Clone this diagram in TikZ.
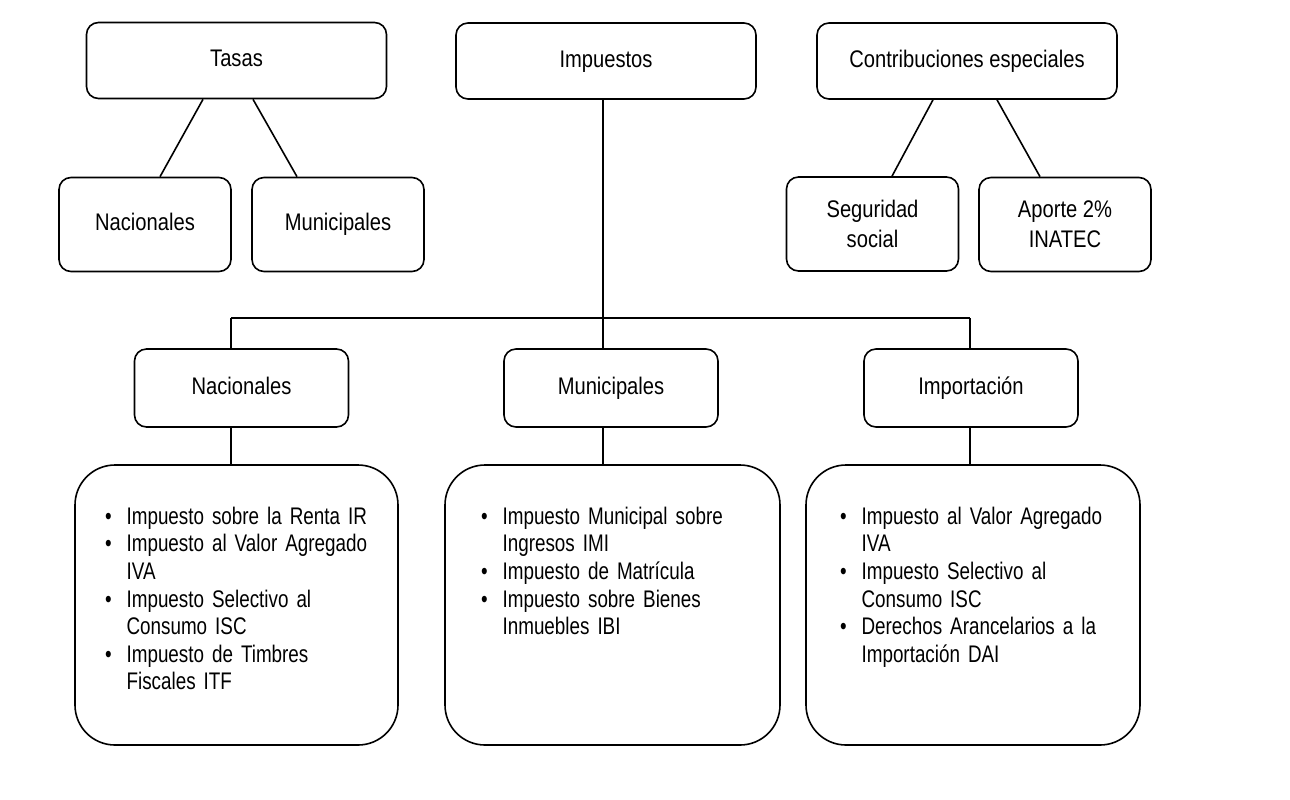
\documentclass[tikz,border=0pt]{standalone}
\usepackage{fontspec}
\setmainfont{Liberation Sans}[FakeStretch=0.84]
\newfontfamily\listfont{Liberation Sans}[FakeStretch=0.785]
\usepackage{enumitem}
\usetikzlibrary{positioning, calc}

\setlist[itemize]{label=\textbullet, leftmargin=12pt, labelsep=7.5pt,
  topsep=0pt, partopsep=0pt, itemsep=0pt, parsep=0pt}

\begin{document}
\begin{tikzpicture}[
    x=0.5pt, y=-0.5pt,
    caja/.style={rectangle, draw=black, line width=0.8pt, rounded corners=6pt,
                 align=center, font=\fontsize{12}{15}\selectfont},
    uno/.style={text height=9pt, text depth=2.6pt},
    grande/.style={caja, uno, minimum width=150pt, minimum height=38pt},
    chica/.style={caja, minimum width=86pt, minimum height=47pt},
    media/.style={caja, uno, minimum width=107pt, minimum height=39pt},
    marco/.style={rectangle, draw=black, line width=0.8pt, rounded corners=20pt,
                  minimum height=140pt},
    lista/.style={text width=150pt, inner sep=0pt, align=left,
                  font=\listfont\fontsize{12}{13.8}\selectfont},
    linea/.style={line width=0.8pt}
]
    \useasboundingbox (0,0) rectangle (1290,799);

    % Tasas
    \node[grande] (tasas) at (236.5,60.5) {Tasas};
    \node[chica, uno] (tnac) at (145,224.5) {Nacionales};
    \node[chica, uno] (tmun) at (338,224.5) {Municipales};

    % Impuestos
    \node[grande] (imp) at (606,61) {Impuestos};

    % Contribuciones especiales
    \node[grande] (contrib) at (967,61) {Contribuciones especiales};
    \node[chica] (seg) at (872.5,224) {Seguridad\\social};
    \node[chica] (inatec) at (1065,224.5) {Aporte 2\%\\INATEC};

    % Ramas de impuestos
    \node[media] (inac) at (241.5,388) {Nacionales};
    \node[media] (imun) at (611,388) {Municipales};
    \node[media] (iimp) at (971,388) {Importación};

    % Listados
    \node[marco, minimum width=161.5pt] (lnac) at (236.5,605) {};
    \node[marco, minimum width=167.5pt] (lmun) at (612.5,605) {};
    \node[marco, minimum width=167pt] (limp) at (973,605) {};

    \node[lista, below right=16pt and 14pt of lnac.north west] (txtnac) {%
      \begin{itemize}
        \item Impuesto sobre la Renta IR
        \item Impuesto al Valor Agregado\newline IVA
        \item Impuesto Selectivo al\newline Consumo ISC
        \item Impuesto de Timbres\newline Fiscales ITF
      \end{itemize}};
    \node[lista, below right=16pt and 17pt of lmun.north west] (txtmun) {%
      \begin{itemize}
        \item Impuesto Municipal sobre\newline Ingresos IMI
        \item Impuesto de Matrícula
        \item Impuesto sobre Bienes\newline Inmuebles IBI
      \end{itemize}};
    \node[lista, below right=16pt and 16pt of limp.north west] (txtimp) {%
      \begin{itemize}
        \item Impuesto al Valor Agregado\newline IVA
        \item Impuesto Selectivo al\newline Consumo ISC
        \item Derechos Arancelarios a la\newline Importación DAI
      \end{itemize}};

    % Conectores superiores
    \draw[linea] ($(tasas.south)+(-33.5,0)$) -- ($(tnac.north)+(15,0)$);
    \draw[linea] ($(tasas.south)+(16.5,0)$) -- ($(tmun.north)+(-41,0)$);
    \draw[linea] ($(contrib.south)+(-34,0)$) -- ($(seg.north)+(19.5,0)$);
    \draw[linea] ($(contrib.south)+(30,0)$) -- ($(inatec.north)+(-25,0)$);

    % Arbol de impuestos
    \coordinate (bus) at (603,318);
    \coordinate (bnac) at (231,318);
    \coordinate (bimp) at (970,318);
    \draw[linea] (imp.south -| bus) -- (bus);
    \draw[linea] (bnac) -- (bimp);
    \draw[linea] (bnac) -- (bnac |- inac.north);
    \draw[linea] (bus) -- (bus |- imun.north);
    \draw[linea] (bimp) -- (bimp |- iimp.north);
    \draw[linea] (bnac |- inac.south) -- (bnac |- lnac.north);
    \draw[linea] (bus |- imun.south) -- (bus |- lmun.north);
    \draw[linea] (bimp |- iimp.south) -- (bimp |- limp.north);

\end{tikzpicture}
\end{document}
